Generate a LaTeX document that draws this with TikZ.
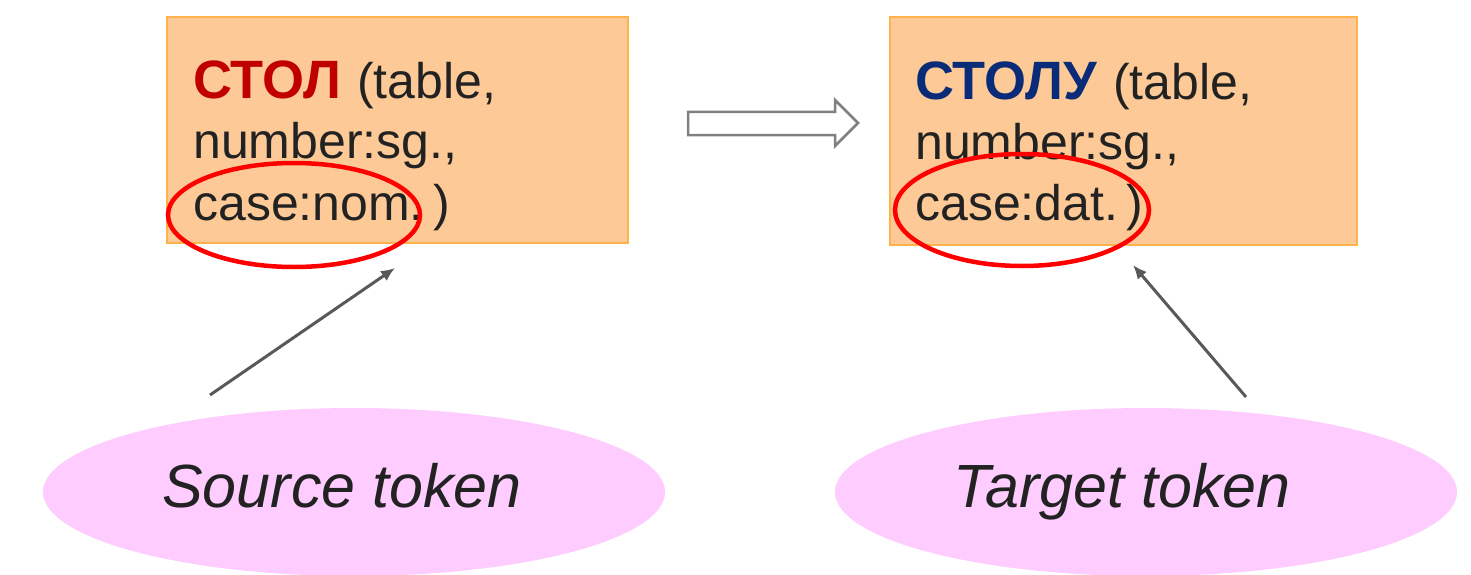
\documentclass[tikz,border=0pt]{standalone}
\usepackage{fontspec}
\setmainfont{Liberation Sans}
\usetikzlibrary{arrows.meta,shapes.geometric}
\definecolor{boxfill}{HTML}{FDCA97}
\definecolor{boxline}{HTML}{FFB24A}
\definecolor{rusred}{HTML}{C00000}
\definecolor{rusblue}{HTML}{0A2C78}
\definecolor{ovalpink}{HTML}{FFCCFF}
\definecolor{inktext}{HTML}{222222}
\begin{document}
\begin{tikzpicture}[x=1pt,y=-1pt,
  tokbox/.style={draw=boxline, line width=2.5pt, fill=boxfill, anchor=north west, inner sep=0pt, outer sep=0pt},
  boxtext/.style={anchor=base west, inner sep=0pt, text=inktext, font=\fontsize{50}{60}\selectfont},
  ring/.style={ellipse, draw=red, line width=4.5pt, inner sep=0pt},
  oval/.style={ellipse, fill=ovalpink, inner sep=0pt},
  ovaltext/.style={anchor=base, inner sep=0pt, text=inktext, font=\fontsize{61}{70}\selectfont\itshape},
  pointer/.style={draw=black!65, line width=3pt, -{Latex[length=14pt,width=12pt]}},
  hollow/.style={draw=black!50, line width=2.5pt, fill=white, line join=miter}]
\useasboundingbox (0,0) rectangle (1471,575);
% boxes
\node[tokbox, minimum width=461pt, minimum height=226pt] (srcbox) at (167,17) {};
\node[tokbox, minimum width=467pt, minimum height=228pt] (tgtbox) at (890,17) {};
% left box text
\node[boxtext] (s1) at (193,99) {\textcolor{rusred}{\fontsize{54}{60}\selectfont\textbf{СТОЛ}}\hspace{16pt}(table,};
\node[boxtext] (s2) at (193,158) {number:sg.,};
\node[boxtext] (s3) at (193,220) {case:nom.\hspace{10pt})};
% right box text
\node[boxtext] (t1) at (915,100) {\textcolor{rusblue}{\fontsize{54}{60}\selectfont\textbf{СТОЛУ}}\hspace{16pt}(table,};
\node[boxtext] (t2) at (915,159) {number:sg.,};
\node[boxtext] (t3) at (915,220) {case:dat.\hspace{8pt})};
% red rings
\node[ring, minimum width=252pt, minimum height=104pt] (nomring) at (294,215) {};
\node[ring, minimum width=254pt, minimum height=112pt] (datring) at (1022,210) {};
% pink ovals
\node[oval, minimum width=622pt, minimum height=168pt] (srcoval) at (354,492) {};
\node[oval, minimum width=622pt, minimum height=168pt] (tgtoval) at (1146,492) {};
\node[ovaltext] (srclabel) at (342,507) {Source token};
\node[ovaltext] (tgtlabel) at (1122,507) {Target token};
% pointers
\coordinate (srctail) at (210,395);
\coordinate (srctip) at (395,268);
\coordinate (tgttail) at (1246,397);
\coordinate (tgttip) at (1133,265);
\draw[pointer] (srctail) -- (srctip);
\draw[pointer] (tgttail) -- (tgttip);
% hollow transformation arrow
\draw[hollow] (688,112) -- (835,112) -- (835,100) -- (858,123) -- (835,146) -- (835,135) -- (688,135) -- cycle;
\end{tikzpicture}
\end{document}
